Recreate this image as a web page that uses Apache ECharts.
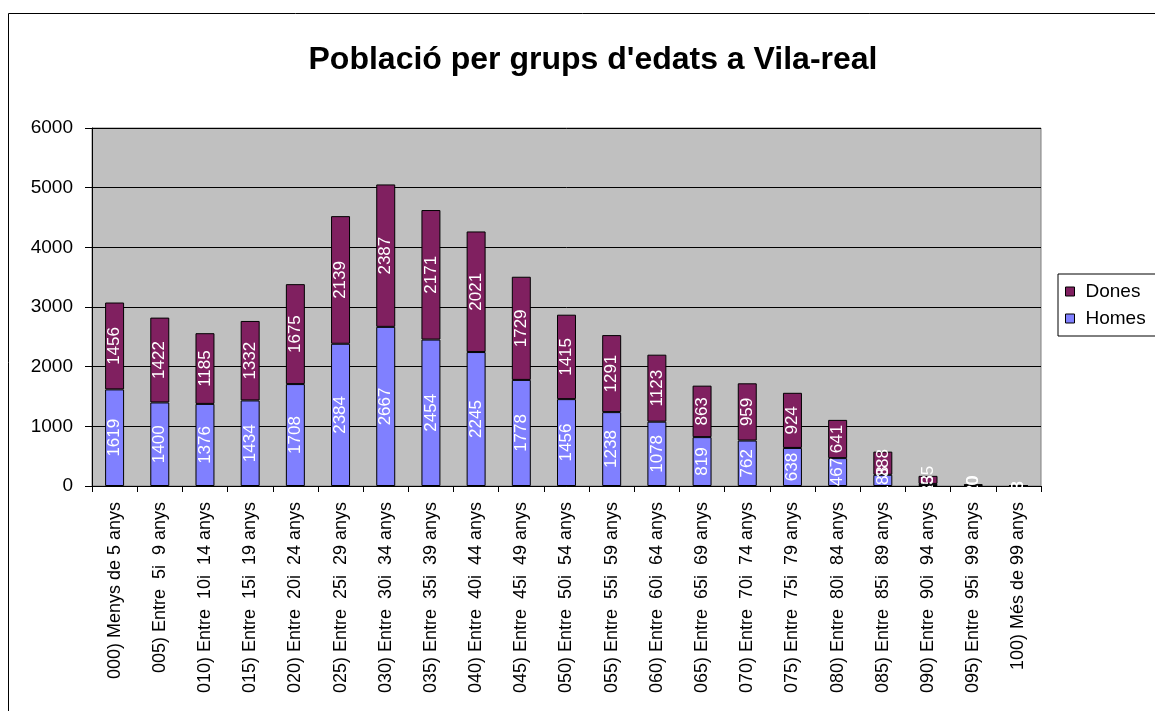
<!DOCTYPE html>
<html>
<head>
<meta charset="utf-8">
<script src="https://cdn.jsdelivr.net/npm/echarts@6/dist/echarts.min.js"></script>
<style>
html,body{margin:0;padding:0;background:#fff;}
#chart{width:1155px;height:711px;}
</style>
</head>
<body>
<div id="chart"></div>
<script>
const categories = [
  "000) Menys de 5 anys",
  "005) Entre  5i  9 anys",
  "010) Entre  10i  14 anys",
  "015) Entre  15i  19 anys",
  "020) Entre  20i  24 anys",
  "025) Entre  25i  29 anys",
  "030) Entre  30i  34 anys",
  "035) Entre  35i  39 anys",
  "040) Entre  40i  44 anys",
  "045) Entre  45i  49 anys",
  "050) Entre  50i  54 anys",
  "055) Entre  55i  59 anys",
  "060) Entre  60i  64 anys",
  "065) Entre  65i  69 anys",
  "070) Entre  70i  74 anys",
  "075) Entre  75i  79 anys",
  "080) Entre  80i  84 anys",
  "085) Entre  85i  89 anys",
  "090) Entre  90i  94 anys",
  "095) Entre  95i  99 anys",
  "100) Més de 99 anys"
];
const homes = [1619,1400,1376,1434,1708,2384,2667,2454,2245,1778,1456,1238,1078,819,762,638,467,188,35,10,3];
const dones = [1456,1422,1185,1332,1675,2139,2387,2171,2021,1729,1415,1291,1123,863,959,924,641,388,135,20,3];
const titleText = "Població per grups d'edats a Vila-real";
const FONT = "'Liberation Sans', Arial, sans-serif";

const chart = echarts.init(document.getElementById('chart'));
const labelCfg = {
  show: true, position: 'inside', rotate: 90, color: '#fff',
  fontFamily: FONT, fontSize: 17
};
chart.setOption({
  animation: false,
  title: {
    text: titleText, left: 588, textAlign: 'center', top: 39,
    textStyle: {fontFamily: FONT, fontWeight: 'bold', fontSize: 32, color: '#000'}
  },
  graphic: [{
    type: 'rect', shape: {x: 8.5, y: 13.5, width: 1200, height: 800},
    style: {fill: 'none', stroke: '#000', lineWidth: 1}, silent: true
  }],
  legend: {
    orient: 'vertical', left: 1058, top: 274,
    data: ['Dones', 'Homes'],
    backgroundColor: '#fff', borderColor: '#000', borderWidth: 1,
    padding: [8, 10, 8, 7], itemGap: 8,
    itemWidth: 9, itemHeight: 9, icon: 'rect',
    itemStyle: {borderColor: '#000', borderWidth: 1},
    textStyle: {fontFamily: FONT, fontSize: 19, color: '#000', padding: [0, 0, 0, 6]}
  },
  grid: {
    left: 92, right: 114, top: 128, bottom: 225,
    show: true, backgroundColor: '#c0c0c0', borderColor: '#808080', borderWidth: 1
  },
  xAxis: {
    type: 'category', data: categories,
    axisLine: {lineStyle: {color: '#000'}},
    axisTick: {show: true, length: 6, lineStyle: {color: '#000'}},
    axisLabel: {rotate: 90, interval: 0, fontFamily: FONT, fontSize: 18, color: '#000', margin: 16}
  },
  yAxis: {
    type: 'value', min: 0, max: 6000, interval: 1000,
    axisLine: {show: true, lineStyle: {color: '#000'}},
    axisTick: {show: true, length: 7, lineStyle: {color: '#000'}},
    axisLabel: {fontFamily: FONT, fontSize: 19, color: '#000', margin: 19, formatter: v => String(v)},
    splitLine: {lineStyle: {color: '#000', width: 1}}
  },
  series: [
    {
      name: 'Homes', type: 'bar', stack: 'a', data: homes, barWidth: '42%',
      itemStyle: {color: '#8080ff', borderColor: '#000', borderWidth: 1},
      label: labelCfg
    },
    {
      name: 'Dones', type: 'bar', stack: 'a', data: dones,
      itemStyle: {color: '#802060', borderColor: '#000', borderWidth: 1},
      label: labelCfg
    }
  ]
});
</script>
</body>
</html>
